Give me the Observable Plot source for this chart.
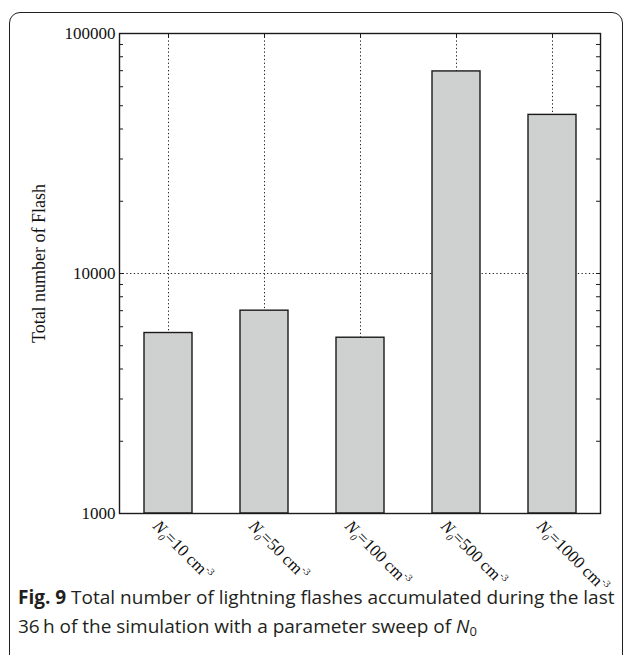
<!DOCTYPE html>
<html>
<head>
<meta charset="utf-8">
<script src="https://cdn.jsdelivr.net/npm/d3@7"></script>
<script src="https://cdn.jsdelivr.net/npm/@observablehq/plot@0.6"></script>
<style>
  html, body { margin: 0; padding: 0; width: 627px; height: 655px; overflow: hidden; background: #fff; }
  #box { position: absolute; left: 9px; top: 12px; width: 614px; height: 660px; border: 1.5px solid #231f20; border-radius: 11px; box-sizing: border-box; }
  #chart { position: absolute; left: 0; top: 0; }
  #caption { position: absolute; left: 18px; top: 583px; width: 605px; font-family: "Open Sans", sans-serif; font-size: 19px; line-height: 29px; color: #231f20; white-space: nowrap; }
  #caption b { font-weight: 700; }
  #caption sub { font-size: 13px; vertical-align: -3px; line-height: 0; }
</style>
</head>
<body>
<div id="box"></div>
<div id="chart"></div>
<div id="caption"><b>Fig. 9</b> Total number of lightning flashes accumulated during the last<br>36&#8201;h of the simulation with a parameter sweep of <i>N</i><sub>0</sub></div>
<script>
// ---- data ----
const concentrations = [10, 50, 100, 500, 1000];          // N0 in cm^-3
const categories = concentrations.map(c => `N0=${c} cm-3`);
const flashes = [5650, 7000, 5400, 69500, 45800];          // total number of flashes
const yTickLabels = [1000, 10000, 100000];
const yMinorTicks = [2000, 3000, 4000, 5000, 6000, 7000, 8000, 9000,
                     20000, 30000, 40000, 50000, 60000, 70000, 80000, 90000];
const yGrid = [10000];
const yLabel = "Total number of Flash";

const data = categories.map((c, i) => ({category: c, conc: concentrations[i], value: flashes[i]}));

const W = 627, H = 600;
const mL = 119, mR = 27, mT = 33, mB = 87;
const frameW = W - mL - mR, frameH = H - mT - mB;
const serif = "'Liberation Serif', 'Times New Roman', serif";

const chart = Plot.plot({
  width: W, height: H,
  marginLeft: mL, marginRight: mR, marginTop: mT, marginBottom: mB,
  style: {fontFamily: serif, fontSize: "17px", color: "#111", background: "transparent", overflow: "visible"},
  x: {domain: categories, paddingInner: 0.5, paddingOuter: 0.25, axis: null},
  y: {type: "log", domain: [1000, 100000], axis: null},
  marks: [
    Plot.gridX(categories, {stroke: "#222", strokeOpacity: 1, strokeWidth: 1, strokeDasharray: "1.3,2.4"}),
    Plot.gridY(yGrid, {stroke: "#222", strokeOpacity: 1, strokeWidth: 1, strokeDasharray: "1.3,2.4"}),
    Plot.barY(data, {x: "category", y1: () => 1000, y2: "value", fill: "#cfd1d0", stroke: "#1a1a1a", strokeWidth: 1.4}),
    // inward minor/major ticks on left and right edges
    Plot.ruleY(yMinorTicks.concat(yGrid), {stroke: "#1a1a1a", strokeWidth: 1, insetRight: frameW - 4}),
    Plot.ruleY(yMinorTicks.concat(yGrid), {stroke: "#1a1a1a", strokeWidth: 1, insetLeft: frameW - 4}),
    // inward x ticks at top
    Plot.ruleX(categories, {stroke: "#1a1a1a", strokeWidth: 1, insetBottom: frameH - 5}),
    Plot.frame({stroke: "#1a1a1a", strokeWidth: 1.4}),
    Plot.axisY({anchor: "left", ticks: yTickLabels, tickSize: 0, tickPadding: 4, tickFormat: d => String(d), fontSize: 17, label: null}),
    Plot.text([yLabel], {frameAnchor: "left", textAnchor: "middle", rotate: -90, dx: -80, dy: -10, fontSize: 18, fill: "#111"}),
    Plot.text(data, {x: "category", frameAnchor: "bottom", text: "category", rotate: 45, textAnchor: "start", lineAnchor: "top", dx: -8, dy: 5, fontSize: 17, fill: "#111"})
  ]
});
document.getElementById("chart").appendChild(chart);

// rich formatting of the x labels: italic N, subscript 0, superscript -3
d3.select(chart).selectAll("text").each(function() {
  const t = this.textContent;
  const m = /^N0=(\d+) cm-3$/.exec(t);
  if (!m) return;
  const el = d3.select(this);
  el.text(null);
  el.append("tspan").attr("font-style", "italic").text("N");
  el.append("tspan").attr("font-size", "10px").attr("font-style", "italic").attr("dy", "4").text("0");
  el.append("tspan").attr("dy", "-4").text(`=${m[1]} cm`);
  el.append("tspan").attr("font-size", "10px").attr("dy", "-7").text("-3");
});
</script>
</body>
</html>
